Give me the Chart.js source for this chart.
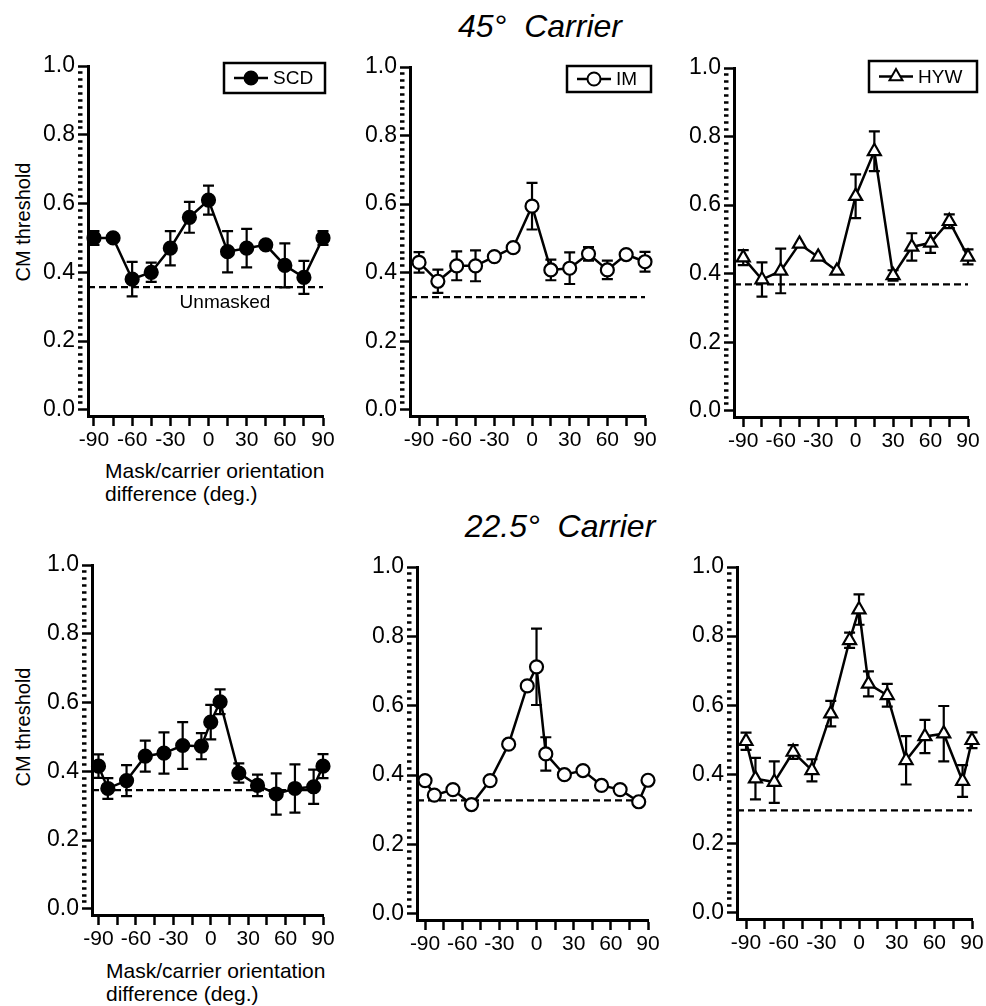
<!DOCTYPE html>
<html>
<head>
<meta charset="utf-8">
<script src="https://cdn.jsdelivr.net/npm/chart.js@4.4.0/dist/chart.umd.min.js"></script>
<style>
  body { margin: 0; background: #fff; width: 986px; height: 1006px; position: relative; overflow: hidden;
         font-family: "Liberation Sans", Arial, Helvetica, sans-serif; color: #000; }
  canvas { position: absolute; }
  .rowtitle { position: absolute; font-size: 32px; font-style: italic; line-height: 1; white-space: pre; transform: translateX(-50%); }
  .ytitle { position: absolute; width: 200px; text-align: center; font-size: 20px; line-height: 20px; transform: rotate(-90deg); }
  .xtitle { position: absolute; font-size: 21px; line-height: 23px; }
</style>
</head>
<body>
<div class="rowtitle" style="left:540px;top:10px">45°  Carrier</div>
<div class="rowtitle" style="left:560px;top:510px">22.5°  Carrier</div>
<div class="ytitle" style="left:-77px;top:212px">CM threshold</div>
<div class="ytitle" style="left:-77px;top:717px">CM threshold</div>
<div class="xtitle" style="left:105px;top:459px">Mask/carrier orientation<br>difference (deg.)</div>
<div class="xtitle" style="left:106px;top:959px">Mask/carrier orientation<br>difference (deg.)</div>

<canvas id="c1"></canvas>
<canvas id="c2"></canvas>
<canvas id="c3"></canvas>
<canvas id="c4"></canvas>
<canvas id="c5"></canvas>
<canvas id="c6"></canvas>

<script>
// mask/carrier orientation differences (deg)
const xTop = [-90, -75, -60, -45, -30, -15, 0, 15, 30, 45, 60, 75, 90];
const xBottom = [-90, -82.5, -67.5, -52.5, -37.5, -22.5, -7.5, 0, 7.5, 22.5, 37.5, 52.5, 67.5, 82.5, 90];

const xTicks = [-90, -75, -60, -45, -30, -15, 0, 15, 30, 45, 60, 75, 90];
const xLabels = [-90, -60, -30, 0, 30, 60, 90];
const yTicks = [0, 0.2, 0.4, 0.6, 0.8, 1.0];
const yMinorStep = 0.02;

// 45 deg carrier
const scdTop    = [0.50, 0.50, 0.38, 0.40, 0.47, 0.56, 0.61, 0.46, 0.47, 0.48, 0.42, 0.385, 0.50];
const scdTopErr = [0.02, 0, 0.05, 0.028, 0.05, 0.045, 0.042, 0.06, 0.056, 0, 0.064, 0.048, 0.02];
const imTop     = [0.43, 0.375, 0.42, 0.42, 0.447, 0.473, 0.594, 0.408, 0.413, 0.455, 0.408, 0.453, 0.432];
const imTopErr  = [0.03, 0.034, 0.042, 0.045, 0, 0, 0.068, 0.03, 0.046, 0.02, 0.027, 0.01, 0.029];
const hywTop    = [0.447, 0.383, 0.408, 0.487, 0.449, 0.408, 0.626, 0.757, 0.395, 0.478, 0.49, 0.553, 0.449];
const hywTopErr = [0.022, 0.05, 0.065, 0, 0, 0, 0.064, 0.058, 0.015, 0.04, 0.029, 0.02, 0.022];

// 22.5 deg carrier
const scdBot    = [0.415, 0.35, 0.373, 0.444, 0.453, 0.475, 0.473, 0.543, 0.602, 0.395, 0.359, 0.334, 0.35, 0.355, 0.415];
const scdBotErr = [0.034, 0.03, 0.045, 0.045, 0.06, 0.068, 0.038, 0.05, 0.036, 0.028, 0.031, 0.06, 0.07, 0.05, 0.035];
const imBot     = [0.384, 0.342, 0.358, 0.315, 0.384, 0.489, 0.657, 0.712, 0.461, 0.401, 0.413, 0.37, 0.358, 0.323, 0.385];
const imBotErr  = [0, 0, 0, 0, 0, 0, 0, 0.11, 0.048, 0, 0, 0, 0, 0, 0];
const hywBot    = [0.496, 0.388, 0.378, 0.465, 0.412, 0.576, 0.788, 0.877, 0.662, 0.629, 0.441, 0.51, 0.518, 0.381, 0.499];
const hywBotErr = [0.025, 0.06, 0.06, 0.02, 0.032, 0.037, 0.022, 0.044, 0.036, 0.033, 0.07, 0.048, 0.08, 0.046, 0.023];

// unmasked threshold per observer (SCD, IM, HYW)
const unmaskedTop = [0.357, 0.329, 0.369];
const unmaskedBottom = [0.345, 0.327, 0.296];

const FONT = '"Liberation Sans", Arial, Helvetica, sans-serif';
const Y_MIN = -0.018;
const YW = 60, XH = 40, PT = 20, PR = 20;

const isMajorY = v => yTicks.some(t => Math.abs(t - v) < 1e-6);
const yAllTicks = [];
for (let k = 0; k <= 50; k++) yAllTicks.push(+(k * yMinorStep).toFixed(2));

const markers = {
  SCD: { pointStyle: 'circle', radius: 6.5, fill: '#000' },
  IM:  { pointStyle: 'circle', radius: 6.5, fill: '#fff' },
  HYW: { pointStyle: 'triangle', radius: 7.5, fill: '#fff' }
};

// error bars drawn under the markers
const errorBars = {
  id: 'errorBars',
  beforeDatasetsDraw(chart) {
    const { ctx, scales: { x, y } } = chart;
    chart.data.datasets.forEach(ds => {
      if (!ds.errors) return;
      ctx.save();
      ctx.strokeStyle = '#000';
      ctx.lineWidth = 2.2;
      ds.data.forEach((p, i) => {
        const e = ds.errors[i];
        if (!e) return;
        const px = x.getPixelForValue(p.x);
        const top = y.getPixelForValue(p.y + e);
        const bot = y.getPixelForValue(p.y - e);
        ctx.beginPath();
        ctx.moveTo(px, top); ctx.lineTo(px, bot);
        ctx.moveTo(px - 5.5, top); ctx.lineTo(px + 5.5, top);
        ctx.moveTo(px - 5.5, bot); ctx.lineTo(px + 5.5, bot);
        ctx.stroke();
      });
      ctx.restore();
    });
  }
};

// boxed legend and the "Unmasked" note
const decorations = {
  id: 'decorations',
  afterDraw(chart) {
    const { ctx, chartArea: a } = chart;
    const y = chart.scales.y, x = chart.scales.x;
    const cfg = chart.config.options.panel;
    ctx.save();
    ctx.strokeStyle = '#000';
    ctx.fillStyle = '#000';

    if (cfg.legend) {
      const L = cfg.legend;
      const ds = chart.data.datasets[0];
      const m = markers[ds.label];
      const left = a.right + L.dx - L.w, top = a.top + L.dy, cy = top + L.h / 2;
      ctx.lineWidth = 2.5;
      ctx.strokeRect(left, top, L.w, L.h);
      ctx.beginPath();
      ctx.moveTo(left + 10, cy);
      ctx.lineTo(left + 44, cy);
      ctx.stroke();
      ctx.fillStyle = m.fill;
      ctx.lineWidth = 2;
      Chart.helpers.drawPoint(ctx, { pointStyle: m.pointStyle, radius: m.radius, borderWidth: 2, rotation: 0 }, left + 27, cy);
      ctx.fillStyle = '#000';
      ctx.font = '19px ' + FONT;
      ctx.textAlign = 'left';
      ctx.textBaseline = 'middle';
      ctx.fillText(ds.label, left + 49, cy + 1);
    }

    if (cfg.note) {
      ctx.font = '19px ' + FONT;
      ctx.fillStyle = '#000';
      ctx.textAlign = 'center';
      ctx.textBaseline = 'middle';
      ctx.fillText(cfg.note.text, x.getPixelForValue(cfg.note.x), y.getPixelForValue(cfg.note.y));
    }
    ctx.restore();
  }
};

const panels = [
  { id: 'c1', name: 'SCD', xs: xTop, ys: scdTop, err: scdTopErr, base: unmaskedTop[0],
    area: { l: 88, t: 66, r: 323, z: 410 }, xMin: -94.7, legend: { dx: 2, dy: -3, w: 101, h: 30 },
    note: { text: 'Unmasked', x: 13, y: 0.311 } },
  { id: 'c2', name: 'IM', xs: xTop, ys: imTop, err: imTopErr, base: unmaskedTop[1],
    area: { l: 410, t: 67, r: 645, z: 410.3 }, xMin: -97.2, legend: { dx: 6, dy: -1, w: 84, h: 26 } },
  { id: 'c3', name: 'HYW', xs: xTop, ys: hywTop, err: hywTopErr, base: unmaskedTop[2],
    area: { l: 734, t: 68, r: 968, z: 411 }, xMin: -97.4, legend: { dx: 9, dy: -7, w: 108, h: 31 } },
  { id: 'c4', name: 'SCD', xs: xBottom, ys: scdBot, err: scdBotErr, base: unmaskedBottom[0],
    area: { l: 92, t: 565, r: 323, z: 909 }, xMin: -95.2 },
  { id: 'c5', name: 'IM', xs: xBottom, ys: imBot, err: imBotErr, base: unmaskedBottom[1],
    area: { l: 417, t: 567, r: 648, z: 914 }, xMin: -96.5 },
  { id: 'c6', name: 'HYW', xs: xBottom, ys: hywBot, err: hywBotErr, base: unmaskedBottom[2],
    area: { l: 737, t: 567, r: 972, z: 912.5 }, xMin: -97.2 }
];

panels.forEach(p => {
  const a = p.area;
  const b = a.z + (-Y_MIN) * (a.z - a.t);
  const canvas = document.getElementById(p.id);
  const left = a.l - YW, top = a.t - PT;
  const w = (a.r - a.l) + YW + PR, h = (b - a.t) + PT + XH;
  canvas.style.left = left + 'px';
  canvas.style.top = top + 'px';
  canvas.width = Math.round(w);
  canvas.height = Math.round(h);
  canvas.style.width = Math.round(w) + 'px';
  canvas.style.height = Math.round(h) + 'px';

  const m = markers[p.name];
  new Chart(canvas, {
    type: 'line',
    data: {
      datasets: [{
        label: p.name,
        data: p.xs.map((x, i) => ({ x: x, y: p.ys[i] })),
        errors: p.err,
        borderColor: '#000',
        borderWidth: 2.5,
        tension: 0,
        pointStyle: m.pointStyle,
        pointRadius: m.radius,
        pointBackgroundColor: m.fill,
        pointBorderColor: '#000',
        pointBorderWidth: 2.2,
        clip: false
      }, {
        label: 'Unmasked',
        data: [{ x: p.xMin, y: p.base }, { x: 90, y: p.base }],
        borderColor: '#000',
        borderWidth: 2.2,
        borderDash: [7, 4],
        pointRadius: 0,
        clip: false
      }]
    },
    options: {
      panel: { legend: p.legend, note: p.note },
      responsive: false,
      animation: false,
      devicePixelRatio: 1,
      layout: { padding: { top: PT, right: PR, left: 0, bottom: 0 } },
      plugins: {
        legend: { display: false },
        tooltip: { enabled: false }
      },
      scales: {
        x: {
          type: 'linear',
          min: p.xMin,
          max: 90,
          afterBuildTicks: s => { s.ticks = xTicks.map(v => ({ value: v })); },
          afterFit: s => { s.height = XH; },
          grid: { drawOnChartArea: false, tickLength: 10, tickWidth: 2.5, tickColor: '#000' },
          border: { color: '#000', width: 3 },
          ticks: {
            color: '#000', padding: 2, maxRotation: 0, autoSkip: false,
            font: { size: 21, family: FONT },
            callback: v => xLabels.includes(v) ? String(v) : ''
          }
        },
        y: {
          type: 'linear',
          min: Y_MIN,
          max: 1,
          afterBuildTicks: s => { s.ticks = yAllTicks.map(v => ({ value: v })); },
          afterFit: s => { s.width = YW; },
          grid: {
            drawOnChartArea: false, tickLength: 10, tickWidth: 2.5, tickColor: '#000',
            tickBorderDash: c => (c.tick && isMajorY(c.tick.value)) ? [] : [4.5, 60]
          },
          border: { color: '#000', width: 3 },
          ticks: {
            color: '#000', padding: 3, autoSkip: false,
            font: { size: 23, family: FONT },
            callback: v => isMajorY(v) ? v.toFixed(1) : ''
          }
        }
      }
    },
    plugins: [errorBars, decorations]
  });
});
</script>
</body>
</html>
